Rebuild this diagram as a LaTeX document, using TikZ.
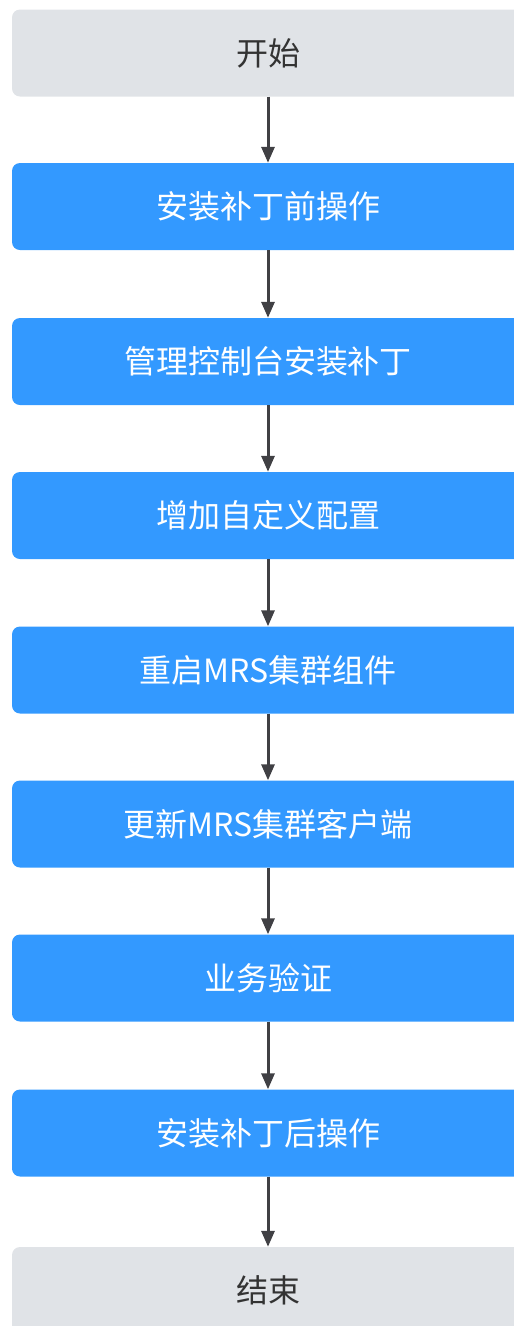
\documentclass[tikz,border=0pt]{standalone}
\usepackage{fontspec}
\setmainfont{Noto Sans CJK SC}
\usetikzlibrary{arrows.meta}
\definecolor{bluebox}{RGB}{51,153,255}
\definecolor{graybox}{RGB}{224,227,231}
\definecolor{grayText}{RGB}{51,51,51}
\definecolor{arrowcol}{RGB}{64,64,68}
\tikzset{
  box/.style={rectangle, rounded corners=8pt, minimum width=512pt, minimum height=87pt, inner sep=0pt, font=\fontsize{32pt}{38pt}\selectfont},
  bluestep/.style={box, fill=bluebox, text=white},
  graystep/.style={box, fill=graybox, text=grayText},
  conn/.style={draw=arrowcol, line width=3pt, -{Triangle[width=13pt,length=16pt]}}
}
\begin{document}
\begin{tikzpicture}[x=1pt,y=1pt]
\useasboundingbox (0,0) rectangle (514,-1326);
\node[graystep] (s) at (268,-53) {开始};
\node[bluestep] (b1) at (268,-206.5) {安装补丁前操作};
\node[bluestep] (b2) at (268,-361.5) {管理控制台安装补丁};
\node[bluestep] (b3) at (268,-515.5) {增加自定义配置};
\node[bluestep] (b4) at (268,-670) {重启MRS集群组件};
\node[bluestep] (b5) at (268,-824) {更新MRS集群客户端};
\node[bluestep] (b6) at (268,-978) {业务验证};
\node[bluestep] (b7) at (268,-1133) {安装补丁后操作};
\node[graystep] (e) at (268,-1290.5) {结束};
\foreach \a/\b in {s/b1,b1/b2,b2/b3,b3/b4,b4/b5,b5/b6,b6/b7,b7/e}
  \draw[conn] (\a.south) -- (\b.north);
\end{tikzpicture}
\end{document}
